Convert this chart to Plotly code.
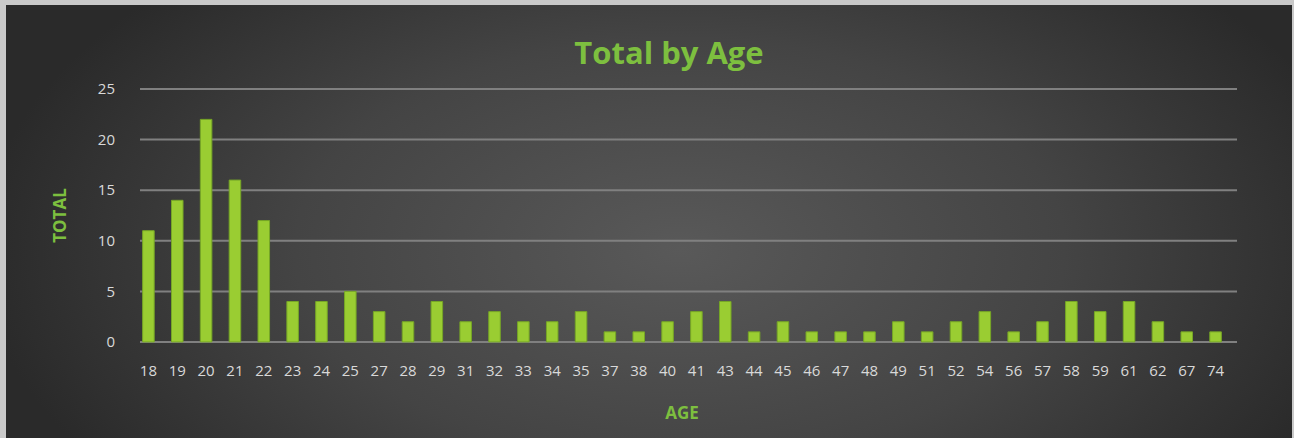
import base64
import plotly.graph_objects as go

ages = ["18", "19", "20", "21", "22", "23", "24", "25", "27", "28", "29", "31", "32", "33",
        "34", "35", "37", "38", "40", "41", "43", "44", "45", "46", "47", "48", "49", "51",
        "52", "54", "56", "57", "58", "59", "61", "62", "67", "74"]
totals = [11, 14, 22, 16, 12, 4, 4, 5, 3, 2, 4, 2, 3, 2,
          2, 3, 1, 1, 2, 3, 4, 1, 2, 1, 1, 1, 2, 1,
          2, 3, 1, 2, 4, 3, 4, 2, 1, 1]
y_ticks = [0, 5, 10, 15, 20, 25]

W, H = 1294, 438
L, R, T, B = 134, 64, 86, 93
PW, PH = W - L - R, H - T - B

svg = f'''<svg xmlns="http://www.w3.org/2000/svg" width="{W}" height="{H}">
<defs>
<radialGradient id="g" cx="680" cy="250" r="700" gradientUnits="userSpaceOnUse" gradientTransform="translate(680 250) scale(1 0.55) translate(-680 -250)">
<stop offset="0" stop-color="#595959"/>
<stop offset="0.55" stop-color="#444444"/>
<stop offset="1" stop-color="#2a2a2a"/>
</radialGradient>
</defs>
<rect x="0" y="0" width="{W}" height="{H}" fill="#c9c9c9"/>
<rect x="6" y="5" width="{W-8}" height="{H-5}" fill="url(#g)"/>
</svg>'''
src = "data:image/svg+xml;base64," + base64.b64encode(svg.encode()).decode()

green = "#7dbf3f"

fig = go.Figure()
fig.add_trace(go.Bar(
    x=ages, y=totals,
    marker=dict(color="#9acd32", line=dict(color="#76a626", width=1)),
    hoverinfo="x+y",
))

grid_shapes = [dict(type="line", xref="paper", yref="y",
                    x0=(140 - L) / PW, x1=(1237 - L) / PW, y0=v, y1=v,
                    line=dict(color="#808080", width=2), layer="below")
               for v in y_ticks]

fig.update_layout(
    width=W, height=H,
    margin=dict(l=L, r=R, t=T, b=B, pad=0),
    paper_bgcolor="#2f2f2f",
    plot_bgcolor="rgba(0,0,0,0)",
    bargap=0.6,
    showlegend=False,
    shapes=grid_shapes,
    title=dict(text="<b>Total by Age</b>", x=669 / W, xanchor="center", y=1 - 53 / H, yanchor="middle",
               font=dict(family="Open Sans", size=31, color=green)),
    images=[dict(source=src, xref="paper", yref="paper", x=-L / PW, y=1 + T / PH,
                 sizex=W / PW, sizey=H / PH, sizing="stretch", xanchor="left", yanchor="top",
                 layer="below")],
    xaxis=dict(
        type="category",
        showgrid=False, zeroline=False, showline=False,
        ticks="", ticklabelstandoff=15,
        tickfont=dict(family="Open Sans", size=15, color="#d9d9d9"),
        title=dict(text="<b>AGE</b>", standoff=28,
                   font=dict(family="Open Sans", size=17, color=green)),
    ),
    yaxis=dict(
        range=[-0.3, 25.3],
        tickvals=y_ticks,
        showgrid=False,
        zeroline=False, showline=False,
        ticks="", ticklabelstandoff=18,
        tickfont=dict(family="Open Sans", size=15, color="#d9d9d9"),
        title=dict(text="<b>TOTAL</b>", standoff=26,
                   font=dict(family="Open Sans", size=17, color=green)),
    ),
)

fig.write_html("out.html", config={"displayModeBar": False},
               post_script="document.body.style.margin='0';")
